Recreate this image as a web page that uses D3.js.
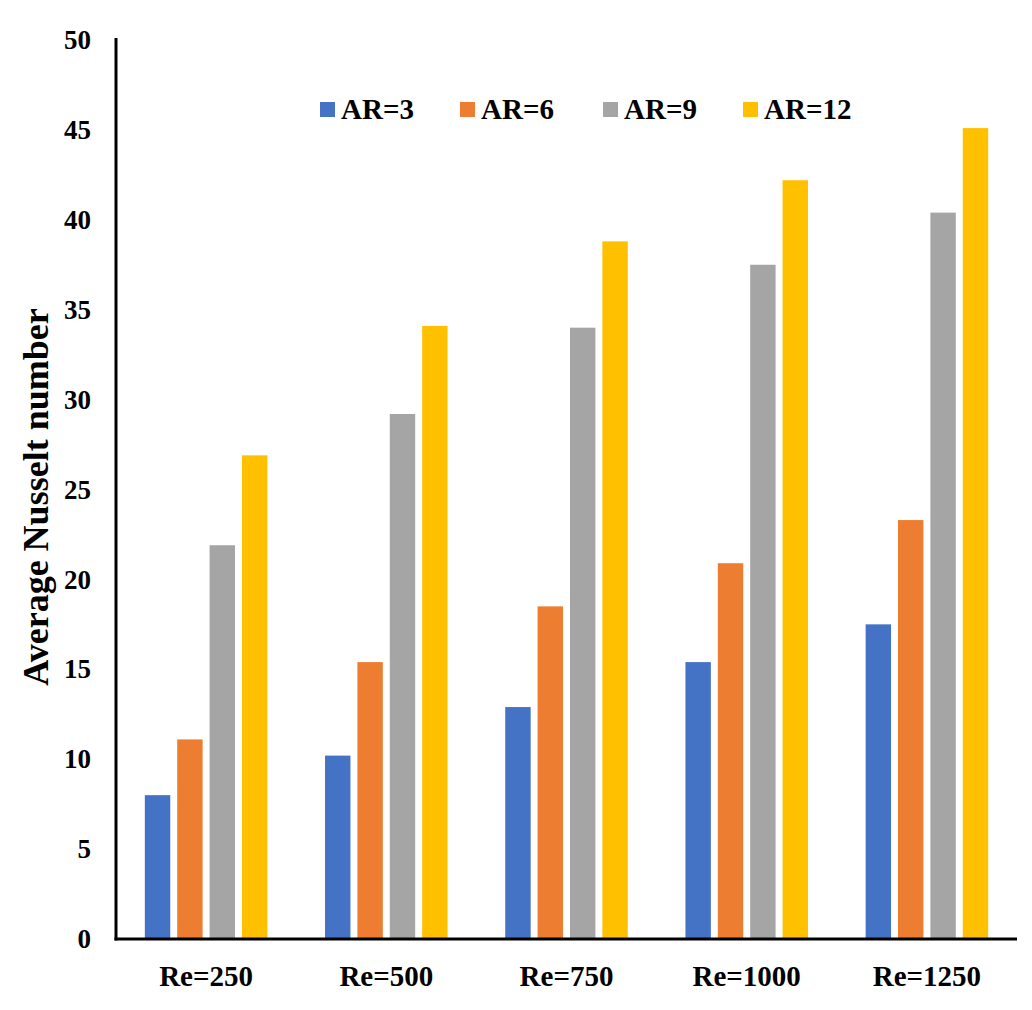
<!DOCTYPE html>
<html>
<head>
<meta charset="utf-8">
<script src="https://cdn.jsdelivr.net/npm/d3@7"></script>
<style>
  html, body { margin: 0; padding: 0; background: #fff; }
  text { font-family: "Liberation Serif", "Times New Roman", "DejaVu Serif", serif; font-weight: bold; fill: #000; }
</style>
</head>
<body>
<svg id="chart" width="1032" height="1010"></svg>
<script>
const categories = ["Re=250", "Re=500", "Re=750", "Re=1000", "Re=1250"];
const seriesNames = ["AR=3", "AR=6", "AR=9", "AR=12"];
const ar3  = [8.0, 10.2, 12.9, 15.4, 17.5];
const ar6  = [11.1, 15.4, 18.5, 20.9, 23.3];
const ar9  = [21.9, 29.2, 34.0, 37.5, 40.4];
const ar12 = [26.9, 34.1, 38.8, 42.2, 45.1];
const yTicks = [0, 5, 10, 15, 20, 25, 30, 35, 40, 45, 50];
const colors = ["#4472C4", "#ED7D31", "#A5A5A5", "#FFC000"];

const seriesValues = [ar3, ar6, ar9, ar12];
const svg = d3.select("#chart");
const FONT = '"Liberation Serif", "Times New Roman", "DejaVu Serif", serif';

const mLeft = 116, mRight = 1017, mTop = 40, mBottom = 939;

const x0 = d3.scaleBand().domain(categories).range([mLeft, mRight])
  .paddingInner(0.32).paddingOuter(0.16);
const x1 = d3.scaleBand().domain(seriesNames).range([0, x0.bandwidth()])
  .paddingInner(0.215).paddingOuter(0);
const y = d3.scaleLinear().domain([0, 50]).range([mBottom, mTop]);
const color = d3.scaleOrdinal().domain(seriesNames).range(colors);

// bars
const groups = svg.append("g").selectAll("g")
  .data(categories)
  .join("g")
  .attr("transform", d => `translate(${x0(d)},0)`);

groups.selectAll("rect")
  .data((c, i) => seriesNames.map((s, j) => ({ s, v: seriesValues[j][i] })))
  .join("rect")
  .attr("x", d => x1(d.s))
  .attr("width", x1.bandwidth())
  .attr("y", d => y(d.v))
  .attr("height", d => y(0) - y(d.v))
  .attr("fill", d => color(d.s));

// y axis
const yAxis = d3.axisLeft(y).tickValues(yTicks).tickSize(0).tickPadding(25);
const gy = svg.append("g").attr("transform", `translate(${mLeft},0)`).call(yAxis);
gy.select(".domain").remove();
gy.selectAll("text")
  .style("font-family", FONT)
  .style("font-weight", "bold")
  .style("font-size", "27px")
  .attr("fill", "#000");

// x axis
const xAxis = d3.axisBottom(x0).tickSize(0).tickPadding(26);
const gx = svg.append("g").attr("transform", `translate(0,${mBottom})`).call(xAxis);
gx.select(".domain").remove();
gx.selectAll("text")
  .style("font-family", FONT)
  .style("font-weight", "bold")
  .style("font-size", "29px")
  .attr("fill", "#000");

// axis lines
svg.append("line").attr("x1", mLeft).attr("x2", mLeft).attr("y1", mTop - 2).attr("y2", mBottom + 1.5)
  .attr("stroke", "#000").attr("stroke-width", 3);
svg.append("line").attr("x1", mLeft - 1.5).attr("x2", mRight).attr("y1", mBottom).attr("y2", mBottom)
  .attr("stroke", "#000").attr("stroke-width", 3);

// y title
svg.append("text")
  .attr("transform", `translate(48,497) rotate(-90)`)
  .attr("text-anchor", "middle")
  .style("font-family", FONT)
  .style("font-size", "36px")
  .text("Average Nusselt number");

// legend
const legendX = [320, 460, 603, 743];
const leg = svg.append("g").selectAll("g")
  .data(seriesNames)
  .join("g")
  .attr("transform", (d, i) => `translate(${legendX[i]},102)`);
leg.append("rect").attr("width", 15).attr("height", 15).attr("fill", d => color(d));
leg.append("text").attr("x", 21).attr("y", 17)
  .style("font-family", FONT)
  .style("font-size", "29px").text(d => d);
</script>
</body>
</html>
